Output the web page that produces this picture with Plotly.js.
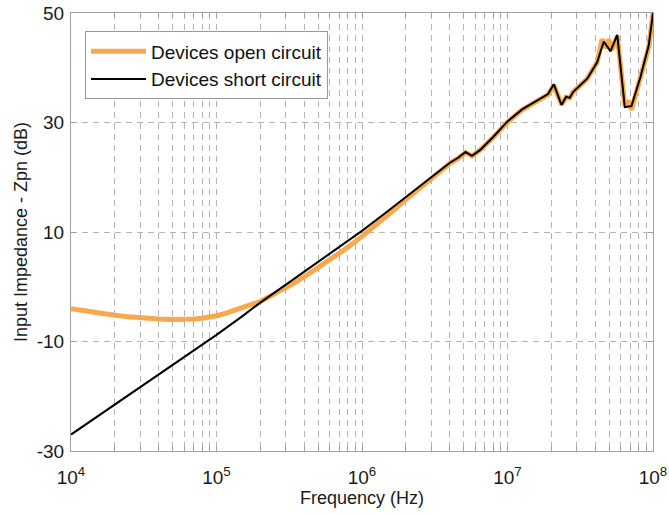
<!DOCTYPE html>
<html>
<head>
<meta charset="utf-8">
<script src="https://cdn.plot.ly/plotly-3.0.1.min.js"></script>
<style>html,body{margin:0;padding:0;background:#fff;}#chart{width:669px;height:514px;}</style>
</head>
<body>
<div id="chart"></div>
<script>
// Frequency (Hz) and impedance (dB)
const openFreq = [1e4, 1.3e4, 1.7e4, 2e4, 2.5e4, 3e4, 4e4, 5e4, 6e4, 7e4, 8e4, 9e4, 1e5, 1.15e5, 1.3e5, 1.5e5, 1.7e5, 2e5, 2.5e5, 3.4e5, 4.5e5, 6e5, 8e5, 1e6, 1.3e6, 1.7e6, 2e6, 3e6, 4e6, 4.6e6, 5.15e6, 5.7e6, 6.5e6, 8e6, 1e7, 1.26e7, 1.6e7, 1.9e7, 2.08e7, 2.35e7, 2.53e7, 2.68e7, 2.83e7, 3.53e7, 4.13e7, 4.47e7, 4.75e7, 4.97e7, 5.2e7, 5.68e7, 6.4e7, 6.76e7, 7.11e7, 8.2e7, 9.35e7, 1e8];
const openDb = [-4.0, -4.5, -4.95, -5.2, -5.5, -5.7, -5.9, -6.0, -6.0, -5.9, -5.75, -5.55, -5.3, -4.85, -4.4, -3.75, -3.25, -2.7, -1.3, 0.6, 2.7, 4.9, 7.2, 9.2, 11.6, 14.3, 15.9, 19.8, 22.5, 23.5, 24.5, 23.9, 25.0, 27.3, 30.1, 32.3, 34.0, 35.1, 36.8, 33.3, 34.6, 34.5, 35.6, 38.0, 41.0, 45.2, 43.6, 45.2, 43.2, 45.8, 33.0, 34.0, 32.3, 38.0, 43.8, 50.0];

const shortFreq = [1e4, 1.5e4, 2e4, 3e4, 5e4, 7e4, 1e5, 1.5e5, 2e5, 3e5, 5e5, 7e5, 1e6, 1.5e6, 2e6, 3e6, 4e6, 4.6e6, 5.15e6, 5.7e6, 6.5e6, 8e6, 1e7, 1.26e7, 1.6e7, 1.9e7, 2.08e7, 2.35e7, 2.53e7, 2.68e7, 2.83e7, 3.53e7, 4.13e7, 4.59e7, 5.1e7, 5.68e7, 6.4e7, 7.11e7, 8.2e7, 9.35e7, 1e8];
const shortDb = [-27.0, -23.8, -21.5, -18.3, -14.3, -11.6, -8.8, -5.4, -2.9, 0.4, 4.5, 7.3, 10.2, 13.8, 16.4, 20.0, 22.6, 23.6, 24.6, 23.9, 25.0, 27.4, 30.2, 32.4, 34.1, 35.2, 37.0, 33.2, 34.7, 34.5, 35.6, 38.0, 41.0, 44.8, 43.0, 46.0, 32.8, 33.0, 38.3, 44.1, 50.0];

const seriesNames = ['Devices open circuit', 'Devices short circuit'];

// log-axis tick positions and labels
const decades = [4, 5, 6, 7, 8];
const majorVals = decades.map(function (d) { return Math.pow(10, d); });
const majorText = decades.map(function (d) { return '10<sup>' + d + '</sup>'; });
const minorVals = [];
decades.slice(0, 4).forEach(function (d) {
  for (let m = 2; m <= 9; m++) minorVals.push(m * Math.pow(10, d));
});
const yTicks = [-30, -10, 10, 30, 50];
const yTickText = ['-30', '-10', '10', '30', '50'];

const traces = [
  {x: openFreq, y: openDb, name: seriesNames[0], type: 'scatter', mode: 'lines',
   line: {color: '#F9A84D', width: 5}},
  {x: shortFreq, y: shortDb, name: seriesNames[1], type: 'scatter', mode: 'lines',
   line: {color: '#000000', width: 2}}
];

const gridCol = '#b4b4b4';
const axCol = '#a0a0a0';
const layout = {
  width: 669, height: 514,
  margin: {l: 71, r: 16, t: 13, b: 63},
  paper_bgcolor: '#fff', plot_bgcolor: '#fff',
  font: {family: 'Liberation Sans, Arial, sans-serif', color: '#1a1a1a'},
  showlegend: true,
  legend: {x: 0.024, y: 0.958, xanchor: 'left', yanchor: 'top',
    bgcolor: '#fff', bordercolor: '#999', borderwidth: 1,
    font: {size: 19, color: '#111'}, itemwidth: 55, tracegroupgap: 0},
  xaxis: {
    type: 'log', range: [4, 8], tickmode: 'array', tickvals: majorVals, ticktext: majorText,
    showgrid: true, gridcolor: gridCol, griddash: '6px,5px', gridwidth: 1,
    showline: true, linecolor: axCol, linewidth: 1, mirror: 'ticks',
    ticks: 'inside', ticklen: 5, tickcolor: axCol, ticklabelstandoff: 9,
    tickfont: {size: 19, color: '#1a1a1a'},
    minor: {tickmode: 'array', tickvals: minorVals, ticks: 'inside', ticklen: 5, tickcolor: axCol,
      showgrid: true, gridcolor: gridCol, griddash: '6px,5px', gridwidth: 1},
    title: {text: 'Frequency (Hz)', font: {size: 18, color: '#1a1a1a'}, standoff: 4},
    zeroline: false
  },
  yaxis: {
    range: [-30, 50], tickmode: 'array', tickvals: yTicks, ticktext: yTickText,
    showgrid: true, gridcolor: gridCol, griddash: '6px,5px', gridwidth: 1,
    showline: true, linecolor: axCol, linewidth: 1, mirror: 'ticks',
    ticks: 'inside', ticklen: 5, tickcolor: axCol, ticklabelstandoff: 2,
    tickfont: {size: 19, color: '#1a1a1a'},
    title: {text: 'Input Impedance - Zpn (dB)', font: {size: 18, color: '#1a1a1a'}, standoff: 4},
    zeroline: false
  }
};

Plotly.newPlot('chart', traces, layout, {displayModeBar: false, staticPlot: true});
</script>
</body>
</html>
